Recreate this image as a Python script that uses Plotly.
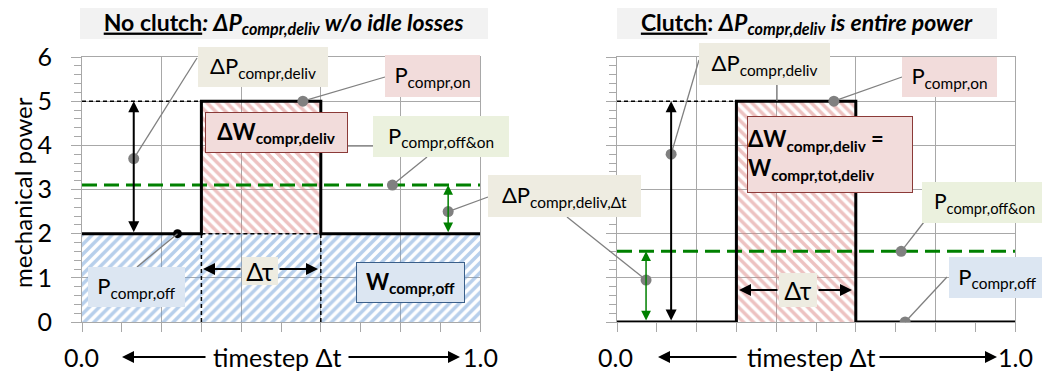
import plotly.graph_objects as go

# step profile of compressor power over one timestep (fraction of timestep)
t_step = [0.0, 0.3, 0.3, 0.6, 0.6, 1.0]
p_no_clutch = [2, 2, 5, 5, 2, 2]
p_clutch = [0, 0, 5, 5, 0, 0]
p_on = 5
p_off_no_clutch = 2
p_off_clutch = 0
t_on_start = 0.3
t_on_end = 0.6
p_avg_no_clutch = 3.1
p_avg_clutch = 1.6

# anchor points of the callouts (x = fraction of timestep, y = power)
dots_left_x = [0.13, 0.555, 0.78, 0.92]
dots_left_y = [3.7, 5.0, 3.1, 2.5]
dots_right_x = [0.136, 0.545, 0.714, 0.724, 0.073]
dots_right_y = [3.8, 5.0, 1.6, 0.0, 0.95]
dot_off_x, dot_off_y = 0.24, 2.0
arrow_dp_left_x = 0.13
arrow_dp_right_x = 0.136
arrow_green_left_x = 0.92
arrow_green_right_x = 0.073

y_ticks = [0, 1, 2, 3, 4, 5, 6]

# page has an 8px body margin, so the figure is drawn 8px in from the corner
OFF = 8
W, H = 1050 - OFF, 376 - OFF
X1 = (82, 480)
X2 = (617, 1015)
Y0, Y6 = 322, 57
FONT = "Lato, Noto Sans, DejaVu Sans"
GRID = "#a8a8a8"
GREY = "#808080"
GREEN = "#008000"


def fx(p):
    return (p - OFF) / W


def fy(p):
    return 1 - (p - OFF) / H


def to_px(xd, yd, panel):
    a, b = X1 if panel == 1 else X2
    return a + xd * (b - a), Y0 - yd / 6 * (Y0 - Y6)


fig = go.Figure()


def hatch(x, y, xa, ya, shape, color):
    fig.add_trace(go.Scatter(
        x=x, y=y, xaxis=xa, yaxis=ya, mode="lines", fill="toself",
        line=dict(width=0, color="rgba(0,0,0,0)"),
        fillcolor="rgba(0,0,0,0)",
        fillpattern=dict(shape=shape, fgcolor=color, bgcolor="rgba(0,0,0,0)",
                         size=7, solidity=0.5),
        hoverinfo="skip"))


def rect(x0, x1, y0, y1):
    return [x0, x1, x1, x0, x0], [y0, y0, y1, y1, y0]


def dashed(x, y, xa, ya, color="black", width=1.5, dash="4px,3px"):
    fig.add_trace(go.Scatter(x=x, y=y, xaxis=xa, yaxis=ya, mode="lines",
                             line=dict(color=color, width=width, dash=dash),
                             hoverinfo="skip"))


# ---- left panel: no clutch
rx, ry = rect(0, 1, 0, p_off_no_clutch)
hatch(rx, ry, "x", "y", "/", "#6f9fd8")
rx, ry = rect(t_on_start, t_on_end, p_off_no_clutch, p_on)
hatch(rx, ry, "x", "y", "\\", "#dc8684")
dashed([0, t_on_start], [p_on, p_on], "x", "y")
dashed([t_on_start, t_on_start], [0, p_off_no_clutch], "x", "y")
dashed([t_on_end, t_on_end], [0, p_off_no_clutch], "x", "y")
dashed([t_on_start, t_on_end], [p_off_no_clutch, p_off_no_clutch], "x", "y")
dashed([0, 1], [p_avg_no_clutch, p_avg_no_clutch], "x", "y", GREEN, 3, "15px,7px")
fig.add_trace(go.Scatter(x=t_step, y=p_no_clutch, xaxis="x", yaxis="y", mode="lines",
                         line=dict(color="black", width=3), hoverinfo="skip"))
fig.add_trace(go.Scatter(x=dots_left_x, y=dots_left_y, xaxis="x", yaxis="y", mode="markers",
                         marker=dict(color=GREY, size=11), hoverinfo="skip"))
fig.add_trace(go.Scatter(x=[dot_off_x], y=[dot_off_y], xaxis="x", yaxis="y", mode="markers",
                         marker=dict(color="black", size=9), hoverinfo="skip"))

# ---- right panel: clutch
rx, ry = rect(t_on_start, t_on_end, p_off_clutch, p_on)
hatch(rx, ry, "x2", "y2", "\\", "#dc8684")
dashed([0, t_on_start], [p_on, p_on], "x2", "y2")
dashed([0, 1], [p_avg_clutch, p_avg_clutch], "x2", "y2", GREEN, 3, "15px,7px")
fig.add_trace(go.Scatter(x=t_step, y=p_clutch, xaxis="x2", yaxis="y2", mode="lines",
                         line=dict(color="black", width=3), hoverinfo="skip"))
fig.add_trace(go.Scatter(x=dots_right_x, y=dots_right_y, xaxis="x2", yaxis="y2", mode="markers",
                         marker=dict(color=GREY, size=11), hoverinfo="skip"))

ann = []
shapes = []


def label(text, box, bg, size=22, border=None, align="center"):
    l, t, r, b = box
    bw = 1 if border else 0
    ann.append(dict(xref="paper", yref="paper", x=fx(l), y=fy((t + b) / 2),
                    xanchor="left", yanchor="middle", width=r - l - 2 * bw,
                    height=b - t - 2 * bw, text=text, showarrow=False, bgcolor=bg,
                    bordercolor=border or "rgba(0,0,0,0)", borderwidth=bw, borderpad=0,
                    font=dict(size=size, color="black", family=FONT), align=align,
                    valign="middle"))


def connector(p0, p1):
    shapes.append(dict(type="line", xref="paper", yref="paper",
                       x0=fx(p0[0]), y0=fy(p0[1]), x1=fx(p1[0]), y1=fy(p1[1]),
                       line=dict(color=GREY, width=1.3)))


def h_arrow(head, tail, y, width=2, color="black"):
    ann.append(dict(xref="paper", yref="paper", x=fx(head), y=fy(y), ax=tail - head, ay=0,
                    axref="pixel", ayref="pixel", text="", showarrow=True,
                    arrowhead=2, arrowsize=1.2, arrowwidth=width, arrowcolor=color,
                    standoff=0, startstandoff=0))


def v_double(xd, y0, y1, xa, ya, color, width):
    ann.append(dict(xref=xa, yref=ya, axref=xa, ayref=ya, x=xd, y=y1, ax=xd, ay=y0,
                    text="", showarrow=True, arrowhead=2, arrowside="end+start",
                    arrowsize=1.3 if width < 2 else 1.1, arrowwidth=width,
                    arrowcolor=color, standoff=0, startstandoff=0))


BEIGE = "#eeece1"
PINK = "#f2dcdb"
BLUE = "#dce6f2"
LGREEN = "#ebf1de"

# titles
label("<b><u>No clutch</u><i>: ΔP<sub>compr,deliv</sub> w/o idle losses</i></b>",
      (80, 7, 488, 39), "#f2f2f2", size=23)
label("<b><u>Clutch</u>: <i>ΔP<sub>compr,deliv</sub> is entire power</i></b>",
      (617, 7, 997, 39), "#f2f2f2", size=23)

# double arrows
v_double(arrow_dp_left_x, p_off_no_clutch, p_on, "x", "y", "black", 2)
v_double(arrow_green_left_x, p_off_no_clutch, p_avg_no_clutch, "x", "y", GREEN, 1.5)
v_double(arrow_dp_right_x, p_off_clutch, p_on, "x2", "y2", "black", 2)
v_double(arrow_green_right_x, p_off_clutch, p_avg_clutch, "x2", "y2", GREEN, 1.5)

# left callouts
connector(to_px(dots_left_x[0], dots_left_y[0], 1), (197, 58))
connector(to_px(dots_left_x[1], dots_left_y[1], 1), (385, 77))
connector(to_px(dots_left_x[2], dots_left_y[2], 1), (427, 157))
connector(to_px(dots_left_x[3], dots_left_y[3], 1), (488, 197))
connector(to_px(dot_off_x, dot_off_y, 1), (137, 267))
connector((348, 146), (373, 146))
label("ΔP<sub>compr,deliv</sub>", (198, 47, 328, 87), BEIGE)
label("P<sub>compr,on</sub>", (385, 55, 480, 97), PINK)
label("<b>ΔW<sub>compr,deliv</sub></b>", (205, 112, 348, 153), PINK, border="#8b3a38")
label("P<sub>compr,off&on</sub>", (373, 116, 509, 157), LGREEN)
label("P<sub>compr,off</sub>", (88, 267, 185, 307), BLUE)
label("<b>W<sub>compr,off</sub></b>", (356, 262, 465, 303), BLUE, border="#3a5f8a")
label("Δτ", (242, 257, 278, 285), BEIGE, size=25)
h_arrow(203, 242, 269)
h_arrow(318, 278, 269)

# shared callout between panels
connector(to_px(dots_right_x[4], dots_right_y[4], 2), (567, 217))
label("ΔP<sub>compr,deliv,Δt</sub>", (488, 175, 641, 217), BEIGE)

# right callouts
connector(to_px(dots_right_x[0], dots_right_y[0], 2), (699, 60))
connector((777, 85), (777, 101))
connector(to_px(dots_right_x[1], dots_right_y[1], 2), (902, 77))
connector(to_px(dots_right_x[2], dots_right_y[2], 2), (924, 222))
connector(to_px(dots_right_x[3], dots_right_y[3], 2), (947, 277))
label("ΔP<sub>compr,deliv</sub>", (699, 43, 830, 85), BEIGE)
label("P<sub>compr,on</sub>", (902, 57, 997, 97), PINK)
label("<b>ΔW<sub>compr,deliv</sub> =<br>W<sub>compr,tot,deliv</sub></b>",
      (747, 116, 913, 193), PINK, border="#8b3a38", align="left")
label("P<sub>compr,off&on</sub>", (922, 182, 1047, 223), LGREEN, size=21)
label("P<sub>compr,off</sub>", (949, 257, 1046, 298), BLUE)
label("Δτ", (779, 273, 817, 307), BEIGE, size=25)
h_arrow(739, 779, 290)
h_arrow(852, 817, 290)

# axis titles and time axis labels
ann.append(dict(xref="paper", yref="paper", x=fx(23), y=fy(193), text="mechanical power",
                textangle=-90, showarrow=False, xanchor="center", yanchor="middle",
                font=dict(size=24, family=FONT, color="black")))
for (x0, xm, x1, al, ar) in [(81, 277, 480, (207, 122), (347, 460)),
                             (615, 811, 1015, (738, 658), (878, 997))]:
    for x, t in [(x0, "0.0"), (xm, "timestep Δt"), (x1, "1.0")]:
        ann.append(dict(xref="paper", yref="paper", x=fx(x), y=fy(357), text=t,
                        xanchor="center", yanchor="middle", showarrow=False,
                        font=dict(size=25, family=FONT, color="black")))
    h_arrow(al[1], al[0], 357)
    h_arrow(ar[1], ar[0], 357)

axis_common = dict(showgrid=True, gridcolor=GRID, gridwidth=1, zeroline=False,
                   showline=True, linecolor=GRID, linewidth=1, mirror=True,
                   ticks="outside", tickcolor=GRID, fixedrange=True, automargin=False)
xcommon = dict(axis_common, range=[0, 1], dtick=0.2, ticklen=9, showticklabels=False,
               minor=dict(dtick=0.1, ticks="outside", ticklen=9, tickcolor=GRID, showgrid=False))
ycommon = dict(axis_common, range=[0, 6], tickvals=y_ticks, ticklen=10,
               minor=dict(dtick=0.2, ticks="outside", ticklen=7, tickcolor=GRID, showgrid=False),
               tickfont=dict(size=25, family=FONT, color="black"))

fig.update_layout(
    width=W, height=H, margin=dict(l=0, r=0, t=0, b=0, autoexpand=False),
    plot_bgcolor="white", paper_bgcolor="white", showlegend=False,
    xaxis=dict(xcommon, domain=[fx(X1[0]), fx(X1[1])], anchor="y"),
    yaxis=dict(ycommon, domain=[fy(Y0), fy(Y6)], anchor="x", ticklabelstandoff=14),
    xaxis2=dict(xcommon, domain=[fx(X2[0]), fx(X2[1])], anchor="y2"),
    yaxis2=dict(ycommon, domain=[fy(Y0), fy(Y6)], anchor="x2", showticklabels=False),
    annotations=ann, shapes=shapes,
)

fig.write_html("out.html")
